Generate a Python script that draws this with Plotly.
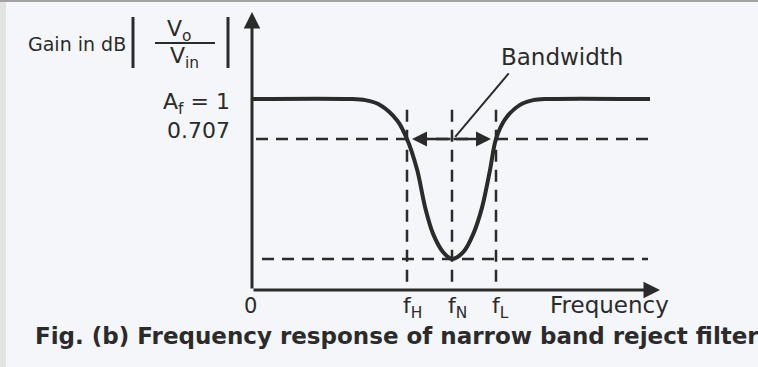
import math
import plotly.graph_objects as go

# Frequency response of a narrow band reject (notch) filter
# frequency in arbitrary units, gain |Vo/Vin| (plotted on a dB / log scale)
freq = [0.0, 2.45, 2.83, 3.2, 3.63, 3.875, 4.13, 4.33, 4.53, 4.78, 5.0,
        5.28, 5.53, 5.75, 5.95, 6.1, 6.33, 6.7, 7.03, 7.38, 9.95]
gain = [1.0, 1.0, 0.99, 0.95, 0.83, 0.707, 0.54, 0.39, 0.31, 0.265, 0.25,
        0.265, 0.31, 0.39, 0.54, 0.707, 0.84, 0.95, 0.99, 1.0, 1.0]

f_H, f_N, f_L = 3.875, 5.0, 6.1
freq_labels = ["f<sub>H</sub>", "f<sub>N</sub>", "f<sub>L</sub>"]
A_f = 1.0
cutoff = 0.707
notch = 0.25

x_max = 10.25
y_min, y_max = 0.191, 2.125

W, H = 758, 367
L, R, T, B = 252, 96, 12, 77

INK = "#2b2b2b"
FONT = "DejaVu Sans"
DASH = "12px,8px"


def px(x):
    return (x - L) / (W - L - R)


def py(y):
    return (H - B - y) / (H - T - B)


def label(text, x, y, size, xref="paper", yref="paper", xanchor="center",
          yanchor="middle", **kw):
    return dict(text=text, x=x, y=y, xref=xref, yref=yref, xanchor=xanchor,
                yanchor=yanchor, showarrow=False,
                font=dict(family=FONT, size=size, color=INK), **kw)


fig = go.Figure()

# response curve
fig.add_trace(go.Scatter(
    x=freq, y=gain, mode="lines",
    line=dict(color=INK, width=4, shape="spline", smoothing=0.9),
    hoverinfo="skip", showlegend=False))

# dashed reference levels
fig.add_trace(go.Scatter(
    x=[0.1, 10.0], y=[cutoff, cutoff], mode="lines",
    line=dict(color=INK, width=2.5, dash=DASH), showlegend=False))
fig.add_trace(go.Scatter(
    x=[0.25, 9.9], y=[notch, notch], mode="lines",
    line=dict(color=INK, width=2.5, dash=DASH), showlegend=False))

# dashed verticals at f_H, f_N, f_L
for f in (f_H, f_N, f_L):
    fig.add_trace(go.Scatter(
        x=[f, f], y=[0.91, y_min], mode="lines",
        line=dict(color=INK, width=2.5, dash=DASH), showlegend=False))

ann = []
lg = math.log10

# axes with arrowheads
ann.append(dict(x=0, y=lg(y_max), ax=0, ay=lg(y_min), xref="x", yref="y",
                axref="x", ayref="y", text="", showarrow=True, arrowhead=2,
                arrowsize=1.1, arrowwidth=3, arrowcolor=INK))
ann.append(dict(x=x_max - 0.05, y=lg(y_min), ax=0, ay=lg(y_min), xref="x", yref="y",
                axref="x", ayref="y", text="", showarrow=True, arrowhead=2,
                arrowsize=1.1, arrowwidth=3, arrowcolor=INK))

# bandwidth arrows on the 0.707 level
for tip in (f_H, f_L):
    ann.append(dict(x=tip, y=lg(cutoff), ax=f_N, ay=lg(cutoff), xref="x", yref="y",
                    axref="x", ayref="y", text="", showarrow=True, arrowhead=2,
                    arrowsize=1.2, arrowwidth=2.5, arrowcolor=INK, standoff=5))
# pointer to the "Bandwidth" label
ann.append(dict(x=f_N + 0.08, y=lg(0.72), ax=6.45, ay=lg(1.264), xref="x", yref="y",
                axref="x", ayref="y", text="", showarrow=True, arrowhead=0,
                arrowwidth=2, arrowcolor=INK))
ann.append(label("Bandwidth", px(562), py(57), 23))

# vertical axis labels
ann.append(label("A<sub>f</sub> = 1", 0, lg(A_f), 22, yref="y", xanchor="right",
                 xshift=-20, yshift=-5))
ann.append(label(f"{cutoff}", 0, lg(cutoff), 22, yref="y", xanchor="right",
                 xshift=-20, yshift=8))
ann.append(label("Gain in dB", px(128), py(44), 19, xanchor="right"))
ann.append(label("V<sub>o</sub>", px(179), py(30), 22))
ann.append(label("V<sub>in</sub>", px(184), py(57), 22))

# horizontal axis labels
ann.append(label("0", 0, py(306), 21, xref="x", xshift=-2))
for f, lab in zip((f_H, f_N, f_L), freq_labels):
    ann.append(label(lab, f, py(307), 22, xref="x", xanchor="left", xshift=-6))
ann.append(label("Frequency", px(548), py(305), 23, xanchor="left"))

# caption
ann.append(label("<b>Fig. (b) Frequency response of narrow band reject filter</b>",
                 px(33), py(336), 23, xanchor="left"))

shapes = [
    # |Vo / Vin| bars and fraction line
    dict(type="line", xref="paper", yref="paper", x0=px(133), x1=px(133),
         y0=py(17), y1=py(68), line=dict(color=INK, width=3)),
    dict(type="line", xref="paper", yref="paper", x0=px(228), x1=px(228),
         y0=py(17), y1=py(68), line=dict(color=INK, width=3)),
    dict(type="line", xref="paper", yref="paper", x0=px(155), x1=px(215),
         y0=py(43), y1=py(43), line=dict(color=INK, width=2)),
    # page edges
    dict(type="rect", xref="paper", yref="paper", x0=px(0), x1=px(W),
         y0=py(2), y1=py(0), line=dict(width=0), fillcolor="#a3a3a3", layer="below"),
    dict(type="rect", xref="paper", yref="paper", x0=px(0), x1=px(6),
         y0=py(H), y1=py(2), line=dict(width=0), fillcolor="#e2e2e2", layer="below"),
]

fig.update_layout(
    width=W, height=H,
    margin=dict(l=L, r=R, t=T, b=B),
    paper_bgcolor="#f4f6f9", plot_bgcolor="rgba(0,0,0,0)",
    xaxis=dict(range=[0, x_max], visible=False),
    yaxis=dict(type="log", range=[lg(y_min), lg(y_max)], visible=False),
    annotations=ann, shapes=shapes, showlegend=False,
)

fig.write_html("out.html")
